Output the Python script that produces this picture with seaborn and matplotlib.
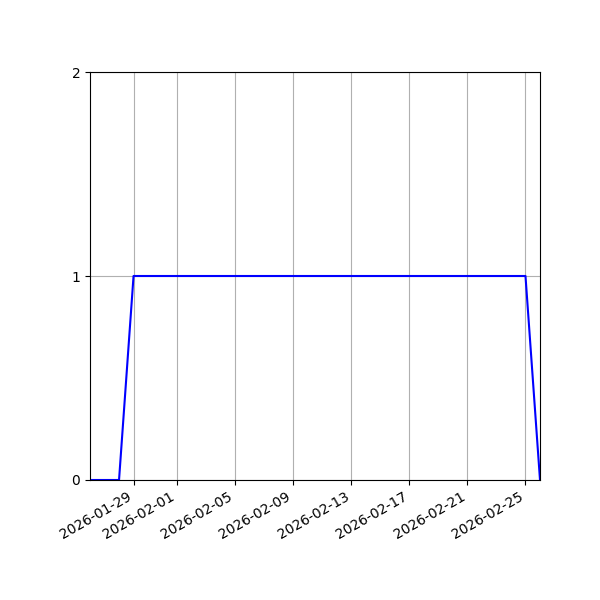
import pandas as pd
import matplotlib
matplotlib.use('Agg')
import matplotlib.pyplot as plt
import seaborn as sns

dates = pd.date_range('2026-01-26', '2026-02-26', freq='D')
values = [0, 0, 0,
          1, 1, 1, 1, 1, 1, 1, 1, 1, 1, 1, 1, 1, 1,
          1, 1, 1, 1, 1, 1, 1, 1, 1, 1, 1, 1, 1, 1,
          0]

df = pd.DataFrame({'date': dates, 'value': values})

fig, ax = plt.subplots(figsize=(6, 6), dpi=100)
sns.lineplot(data=df, x='date', y='value', color='blue', ax=ax)
ax.set_xlim(dates[0], dates[-1])
ax.set_ylim(0, 2)
ax.set_yticks([0, 1, 2])
ax.set_xlabel('')
ax.set_ylabel('')
ax.grid(True)
fig.autofmt_xdate()
fig.subplots_adjust(left=0.15, right=0.9, top=0.88, bottom=0.2)

plt.savefig('out.png', dpi=100)
